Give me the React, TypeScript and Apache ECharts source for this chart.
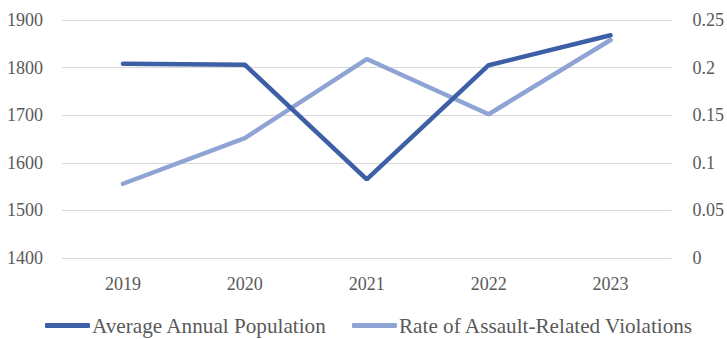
import React, { useEffect, useRef } from "react";
import * as echarts from "echarts";

const years = ["2019", "2020", "2021", "2022", "2023"];
const population = [1808, 1806, 1565, 1805, 1868];
const assaultRate = [0.078, 0.126, 0.209, 0.151, 0.229];
const seriesNames = ["Average Annual Population", "Rate of Assault-Related Violations"];

const FONT = "'Liberation Serif', 'Times New Roman', serif";
const TEXT = "#595959";

export default function App() {
  const ref = useRef<HTMLDivElement>(null);
  useEffect(() => {
    if (!ref.current) return;
    const chart = echarts.init(ref.current, null, { renderer: "svg" });
    chart.setOption({
      animation: false,
      backgroundColor: "#ffffff",
      grid: { left: 62, right: 53, top: 20, bottom: 81, containLabel: false },
      legend: {
        top: 315,
        left: 45,
        padding: 0,
        icon: "roundRect",
        itemWidth: 45,
        itemHeight: 5,
        itemGap: 25,
        textStyle: { fontFamily: FONT, fontSize: 21.2, color: TEXT, padding: [0, 0, 0, -3] },
        data: seriesNames,
      },
      xAxis: {
        type: "category",
        data: years,
        boundaryGap: true,
        axisLine: { show: false },
        axisTick: { show: false },
        axisLabel: { fontFamily: FONT, fontSize: 18, color: TEXT, margin: 17 },
      },
      yAxis: [
        {
          type: "value",
          min: 1400,
          max: 1900,
          interval: 100,
          axisLine: { show: false },
          axisTick: { show: false },
          axisLabel: {
            fontFamily: FONT,
            fontSize: 18,
            color: TEXT,
            margin: 19,
            formatter: (v: number) => String(v),
          },
          splitLine: { lineStyle: { color: "#d9d9d9", width: 1 } },
        },
        {
          type: "value",
          min: 0,
          max: 0.25,
          interval: 0.05,
          axisLine: { show: false },
          axisTick: { show: false },
          axisLabel: {
            fontFamily: FONT,
            fontSize: 18,
            color: TEXT,
            margin: 21,
            formatter: (v: number) => String(Math.round(v * 100) / 100),
          },
          splitLine: { show: false },
        },
      ],
      series: [
        {
          name: seriesNames[0],
          type: "line",
          yAxisIndex: 0,
          data: population,
          symbol: "none",
          lineStyle: { color: "#3d5fa6", width: 4.5, cap: "round" },
          itemStyle: { color: "#3d5fa6" },
          z: 3,
        },
        {
          name: seriesNames[1],
          type: "line",
          yAxisIndex: 1,
          data: assaultRate,
          symbol: "none",
          lineStyle: { color: "#8fa4d5", width: 4.5, cap: "round" },
          itemStyle: { color: "#8fa4d5" },
          z: 2,
        },
      ],
    });
    return () => chart.dispose();
  }, []);
  return (
    <div
      ref={ref}
      style={{ position: "fixed", left: 0, top: 0, width: 727, height: 339 }}
    />
  );
}
